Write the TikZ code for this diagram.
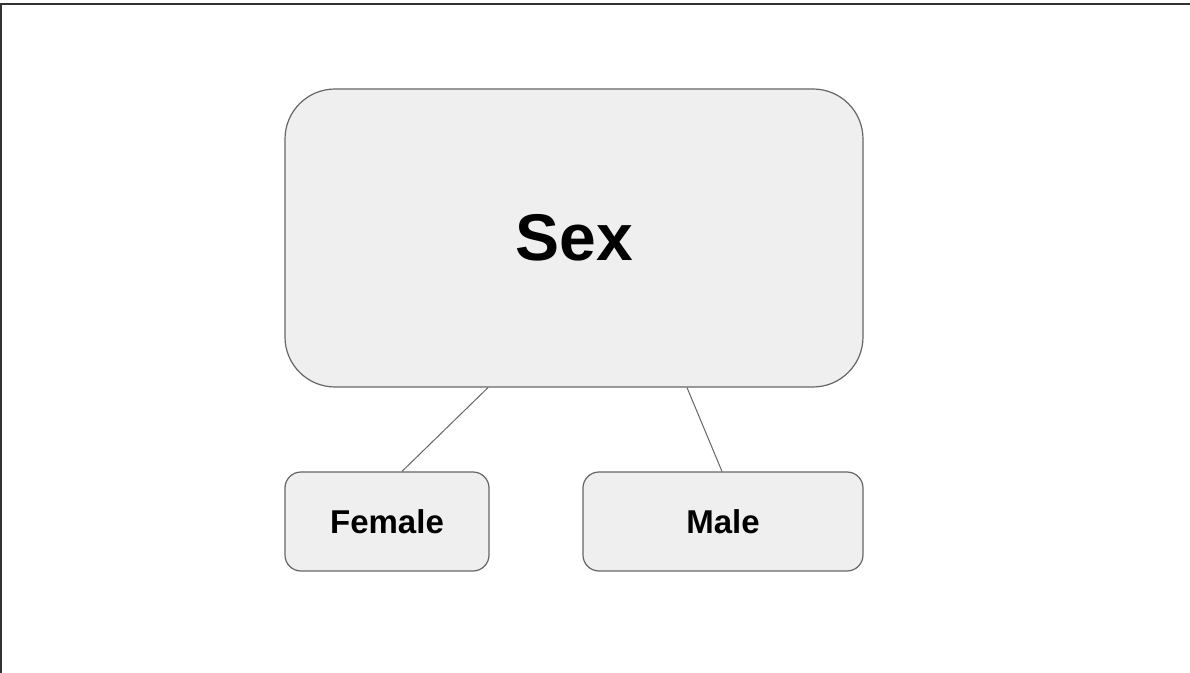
\documentclass[tikz,border=0pt]{standalone}
\usepackage{fontspec}
\setmainfont{Liberation Sans}
\usetikzlibrary{positioning}
\definecolor{boxfill}{HTML}{EEEFEE}
\definecolor{boxline}{HTML}{666666}
\definecolor{frameline}{HTML}{333333}

\begin{document}
\begin{tikzpicture}[
	x=0.5pt, y=-0.5pt,
	box/.style = {draw=boxline, fill=boxfill, line width=0.6pt, align=center,
		font=\bfseries, inner sep=0pt},
	big/.style = {box, minimum width=289pt, minimum height=149pt,
		rounded corners=25pt, font=\fontsize{33}{40}\selectfont\bfseries},
	small/.style = {box, minimum height=49.5pt, rounded corners=8pt,
		font=\fontsize{16.5}{20}\selectfont\bfseries},
	link/.style = {draw=boxline, line width=0.5pt}
     ]
		\useasboundingbox (0,0) rectangle (1190,673);
		\draw[frameline, line width=1pt] (1,673) -- (1,4) -- (1190,4);
%
		\node (sex) [big] at (574,238) {Sex};
		\node (female) [small, minimum width=102pt] at (387,521.5) {Female};
		\node (male) [small, minimum width=140pt] at (723,521.5) {Male};
%
		\draw[link] ([xshift=-43pt] sex.south) -- ([xshift=7.5pt] female.north);
		\draw[link] ([xshift=56.5pt] sex.south) -- ([xshift=-0.5pt] male.north);
\end{tikzpicture}
\end{document}
